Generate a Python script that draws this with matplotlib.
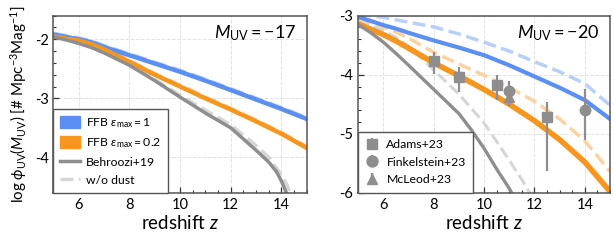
import numpy as np
import matplotlib
matplotlib.use("Agg")
import matplotlib.pyplot as plt
from matplotlib.patches import Patch
from matplotlib.lines import Line2D
from matplotlib.ticker import MultipleLocator

plt.rcParams['font.family'] = ['Lato', 'DejaVu Sans']
plt.rcParams['mathtext.fontset'] = 'custom'
plt.rcParams['mathtext.rm'] = 'Lato'
plt.rcParams['mathtext.it'] = 'Lato:italic'
plt.rcParams['mathtext.bf'] = 'Lato:bold'
plt.rcParams['axes.unicode_minus'] = False

# colours
blue = "#5b8ff2"
blue_l = "#b9cff7"
orange = "#f7961e"
orange_l = "#fcd2a2"
gray = "#8e8e8e"
gray_l = "#d6d6d6"

# ---- M_UV = -17 ----
z17 = [5, 5.5, 6, 6.5, 7, 8, 9, 10, 11, 12, 13, 14, 15]
ffb1_17 = [-1.92, -1.96, -2.0, -2.05, -2.13, -2.27, -2.41, -2.55, -2.70, -2.86, -3.02, -3.18, -3.35]
ffb1_17_nd = [-1.90, -1.94, -1.98, -2.03, -2.11, -2.25, -2.39, -2.53, -2.68, -2.84, -3.00, -3.16, -3.33]
ffb02_17 = [-1.95, -1.99, -2.02, -2.08, -2.17, -2.38, -2.60, -2.80, -3.00, -3.19, -3.39, -3.60, -3.84]
ffb02_17_nd = [-1.93, -1.97, -2.0, -2.06, -2.15, -2.36, -2.58, -2.78, -2.98, -3.17, -3.37, -3.58, -3.82]
z17b = [5, 5.5, 6, 6.5, 7, 8, 9, 10, 11, 12, 13, 13.5, 13.8, 14.0, 14.15, 14.3]
beh_17 = [-1.96, -2.01, -2.07, -2.14, -2.23, -2.44, -2.70, -2.98, -3.25, -3.50, -3.88, -4.08, -4.24, -4.40, -4.55, -4.72]
z17d = [5, 5.5, 6, 6.5, 7, 8, 9, 10, 11, 12, 13, 13.5, 14.0, 14.2, 14.35, 14.5]
beh_17_nd = [-1.95, -2.0, -2.06, -2.13, -2.22, -2.43, -2.68, -2.95, -3.20, -3.45, -3.80, -4.00, -4.30, -4.45, -4.60, -4.76]

# ---- M_UV = -20 ----
z20 = [5, 5.5, 6, 6.5, 7, 8, 9, 10, 11, 12, 13, 14, 15]
ffb1_20 = [-3.02, -3.09, -3.16, -3.22, -3.29, -3.42, -3.54, -3.67, -3.84, -4.03, -4.22, -4.43, -4.75]
ffb1_20_nd = [-2.97, -3.0, -3.03, -3.07, -3.11, -3.19, -3.31, -3.45, -3.60, -3.78, -3.95, -4.15, -4.52]
ffb02_20 = [-3.14, -3.23, -3.32, -3.43, -3.55, -3.80, -4.02, -4.25, -4.50, -4.78, -5.10, -5.48, -5.98]
ffb02_20_nd = [-3.06, -3.12, -3.19, -3.28, -3.38, -3.62, -3.82, -4.01, -4.22, -4.45, -4.75, -5.12, -5.64]
z20b = [5, 5.5, 6, 6.5, 7, 8, 9, 9.5, 10, 10.5, 11, 11.2]
beh_20 = [-3.15, -3.29, -3.45, -3.64, -3.84, -4.25, -4.66, -4.94, -5.25, -5.60, -5.93, -6.08]
z20d = [5, 5.5, 6, 6.5, 7, 8, 9, 10, 11, 11.5, 11.8, 12.0]
beh_20_nd = [-3.10, -3.17, -3.25, -3.37, -3.52, -3.92, -4.33, -4.82, -5.45, -5.78, -6.0, -6.12]

# observations at M_UV = -20
adams_z = [8, 9, 10.5, 12.5]
adams_y = [-3.76, -4.04, -4.18, -4.71]
adams_lo = [0.22, 0.25, 0.25, 0.93]
adams_hi = [0.14, 0.17, 0.17, 0.25]
fink_z = [11, 14]
fink_y = [-4.27, -4.59]
fink_lo = [0.24, 0.51]
fink_hi = [0.17, 0.34]
mcl_z = [11]
mcl_y = [-4.37]
mcl_lo = [0.16]
mcl_hi = [0.12]

fig = plt.figure(figsize=(6.14, 2.4), dpi=100)
ax1 = fig.add_axes([0.087, 0.197, 0.4125, 0.7376])
ax2 = fig.add_axes([0.5835, 0.197, 0.41, 0.7376])

for ax in (ax1, ax2):
    ax.set_xlim(5, 15)
    ax.xaxis.set_major_locator(MultipleLocator(2))
    ax.xaxis.set_minor_locator(MultipleLocator(0.5))
    ax.yaxis.set_major_locator(MultipleLocator(1))
    ax.yaxis.set_minor_locator(MultipleLocator(0.2))
    ax.tick_params(which='both', direction='in', labelsize=10.5, colors='#333333', labelcolor='black')
    ax.tick_params(which='major', length=4, width=0.9)
    ax.tick_params(which='minor', length=2.5, width=0.8)
    ax.grid(True, which='major', ls='--', lw=0.7, color='#e2e2e2')
    ax.set_axisbelow(True)
    for s in ax.spines.values():
        s.set_color('#555555')
        s.set_linewidth(1.1)
    ax.set_xlabel(r"redshift $z$", fontsize=13.5, labelpad=2)

# left panel
ax1.plot(z17, ffb1_17_nd, ls='--', color=blue_l, lw=2.8)
ax1.plot(z17, ffb02_17_nd, ls='--', color=orange_l, lw=2.8)
ax1.plot(z17d, beh_17_nd, ls='--', color=gray_l, lw=2.5)
ax1.plot(z17, ffb1_17, color=blue, lw=3.2)
ax1.plot(z17, ffb02_17, color=orange, lw=3.2)
ax1.plot(z17b, beh_17, color=gray, lw=2.5)
ax1.set_ylim(-4.6, -1.6)
ax1.set_ylabel(r"log $\phi_{\rm UV}(M_{\rm UV})$ [# Mpc$^{-3}$Mag$^{-1}$]", fontsize=10.9, labelpad=4)
ax1.text(0.96, 0.9, r"$M_{\rm UV} = -17$", transform=ax1.transAxes, ha='right', va='center', fontsize=13)

handles = [Patch(facecolor=blue, edgecolor=blue),
           Patch(facecolor=orange, edgecolor=orange),
           Line2D([], [], color=gray, lw=2.5),
           Line2D([], [], color=gray_l, lw=2.5, ls='--')]
labels = [r"FFB $\varepsilon_{\rm max} = 1$", r"FFB $\varepsilon_{\rm max} = 0.2$",
          "Behroozi+19", "w/o dust"]
leg = ax1.legend(handles, labels, loc='lower left', fontsize=8.8, frameon=True, fancybox=False,
                 borderaxespad=0, handlelength=1.6, handleheight=1.1, handletextpad=0.5,
                 labelspacing=0.5, borderpad=0.55)
leg.get_frame().set_edgecolor('#555555')
leg.get_frame().set_linewidth(1.0)
leg.get_frame().set_alpha(1)

# right panel
ax2.plot(z20, ffb1_20_nd, ls='--', color=blue_l, lw=2.5)
ax2.plot(z20, ffb02_20_nd, ls='--', color=orange_l, lw=2.5)
ax2.plot(z20d, beh_20_nd, ls='--', color=gray_l, lw=2.2)
ax2.plot(z20, ffb1_20, color=blue, lw=3.0)
ax2.plot(z20, ffb02_20, color=orange, lw=4.0)
ax2.plot(z20b, beh_20, color=gray, lw=2.4)
ax2.errorbar(adams_z, adams_y, yerr=[adams_lo, adams_hi], fmt='s', color=gray, ms=7.5, elinewidth=1.6,
             capsize=0, label="Adams+23", zorder=5)
ax2.errorbar(fink_z, fink_y, yerr=[fink_lo, fink_hi], fmt='o', color=gray, ms=7.5, elinewidth=1.6,
             capsize=0, label="Finkelstein+23", zorder=5)
ax2.errorbar(mcl_z, mcl_y, yerr=[mcl_lo, mcl_hi], fmt='^', color=gray, ms=7.5, elinewidth=1.6,
             capsize=0, label="McLeod+23", zorder=4)
ax2.set_ylim(-6, -3)
ax2.text(0.96, 0.9, r"$M_{\rm UV} = -20$", transform=ax2.transAxes, ha='right', va='center', fontsize=13)
leg2 = ax2.legend(loc='lower left', fontsize=8.8, frameon=True, fancybox=False, borderaxespad=0,
                  handlelength=1.0, handletextpad=0.7, labelspacing=0.55, borderpad=0.6,
                  markerscale=1.05)
leg2.get_frame().set_edgecolor('#555555')
leg2.get_frame().set_linewidth(1.0)
leg2.get_frame().set_alpha(1)

fig.savefig("out.png", dpi=100)
